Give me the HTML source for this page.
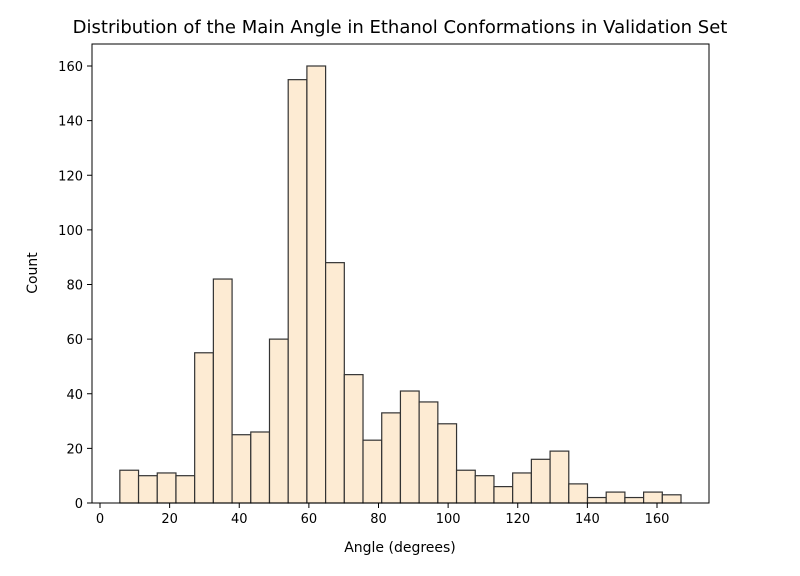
<!DOCTYPE html>
<html><head><meta charset="utf-8"><style>
body{margin:0;background:#fff;}
svg text{font-family:"DejaVu Sans","Liberation Sans",sans-serif;fill:#000;}
</style></head><body>
<svg id="chart" width="800" height="571" xmlns="http://www.w3.org/2000/svg">
<text x="400" y="33" font-size="18" text-anchor="middle">Distribution of the Main Angle in Ethanol Conformations in Validation Set</text>
<g id="bars"></g>
<g id="axes"></g>
<text x="400" y="552" font-size="14" text-anchor="middle">Angle (degrees)</text>
<text transform="translate(37,273) rotate(-90)" font-size="14" text-anchor="middle">Count</text>
</svg>
<script>
const counts = [12,10,11,10,55,82,25,26,60,155,160,88,47,23,33,41,37,29,12,10,6,11,16,19,7,2,4,2,4,3];
const binStart = 5.7;
const binEnd = 166.9;
const xTicks = [0,20,40,60,80,100,120,140,160];
const yTicks = [0,20,40,60,80,100,120,140,160];
const L=92,R=709,T=44,B=503;
const xs = v => 100 + (v-0)*(657-100)/160;
const ys = v => B - v*(B-66)/160;
const NS="http://www.w3.org/2000/svg";
const bars=document.getElementById('bars'), axes=document.getElementById('axes');
const w=(binEnd-binStart)/counts.length;
counts.forEach((c,i)=>{
  const r=document.createElementNS(NS,'rect');
  const x0=xs(binStart+i*w), x1=xs(binStart+(i+1)*w);
  r.setAttribute('x',x0);r.setAttribute('width',x1-x0);
  r.setAttribute('y',ys(c));r.setAttribute('height',B-ys(c));
  r.setAttribute('fill','#fdebd3');r.setAttribute('stroke','#333');r.setAttribute('stroke-width','1.2');
  
  
  bars.appendChild(r);
});
const frame=document.createElementNS(NS,'rect');
frame.setAttribute('x',L);frame.setAttribute('y',T);frame.setAttribute('width',R-L);frame.setAttribute('height',B-T);
frame.setAttribute('fill','none');frame.setAttribute('stroke','#000');frame.setAttribute('stroke-width','1');


axes.appendChild(frame);
xTicks.forEach(t=>{
  const x=xs(t);
  const l=document.createElementNS(NS,'line');
  l.setAttribute('x1',x);l.setAttribute('x2',x);l.setAttribute('y1',B);l.setAttribute('y2',B+5);l.setAttribute('stroke','#000');
  
  
  axes.appendChild(l);
  const tx=document.createElementNS(NS,'text');
  tx.setAttribute('x',x);tx.setAttribute('y',B+20);tx.setAttribute('font-size','13');tx.setAttribute('text-anchor','middle');
  tx.textContent=t;
  
  
  axes.appendChild(tx);
});
yTicks.forEach(t=>{
  const y=ys(t);
  const l=document.createElementNS(NS,'line');
  l.setAttribute('x1',L-5);l.setAttribute('x2',L);l.setAttribute('y1',y);l.setAttribute('y2',y);l.setAttribute('stroke','#000');
  
  
  axes.appendChild(l);
  const tx=document.createElementNS(NS,'text');
  tx.setAttribute('x',L-9);tx.setAttribute('y',y+5);tx.setAttribute('font-size','13');tx.setAttribute('text-anchor','end');
  tx.textContent=t;
  
  
  axes.appendChild(tx);
});
</script>
</body></html>
